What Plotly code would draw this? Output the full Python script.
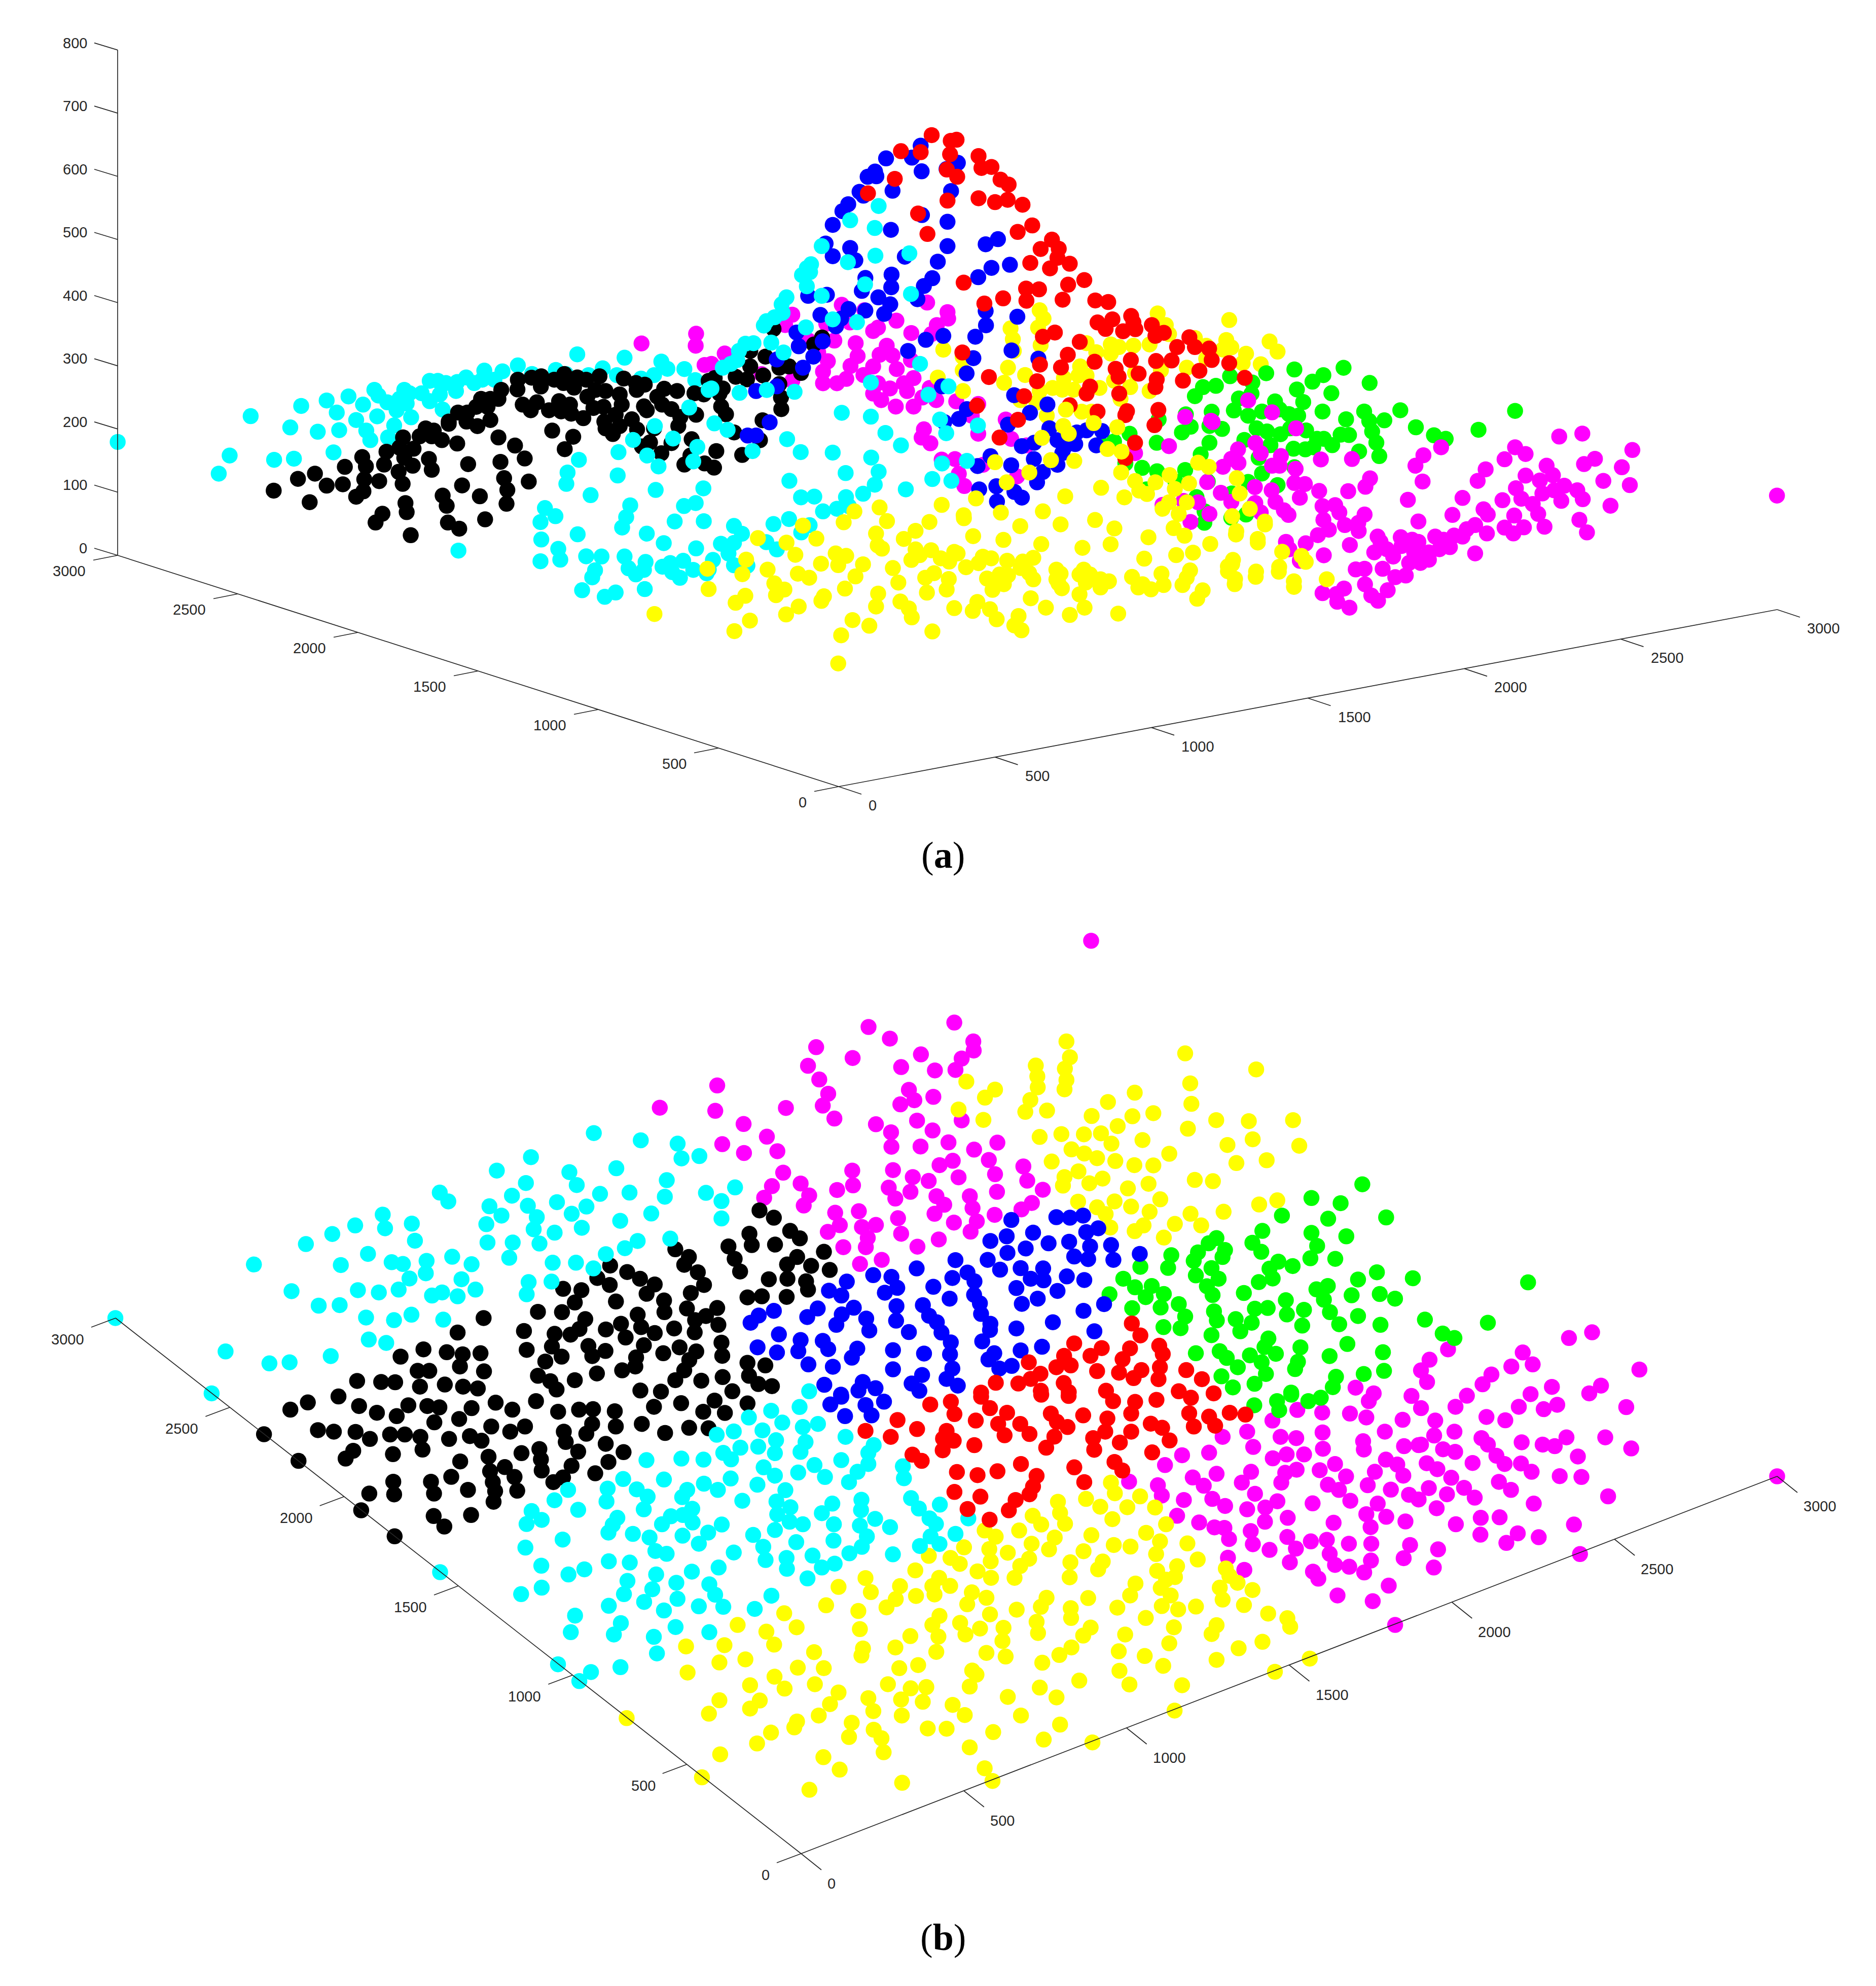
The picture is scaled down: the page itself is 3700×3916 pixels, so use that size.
import plotly.graph_objects as go

# Everything was read off the reference through crops, so each list is in the
# coordinates of the crop it came from: (left, top, width, height, shown_w, shown_h)
CROP_A1 = (150, 550, 1250, 700, 1568, 1568)
CROP_A2 = (1400, 220, 1000, 800, 1568, 1568)
CROP_A3 = (1300, 900, 1300, 500, 1568, 1568)
CROP_A4 = (2300, 600, 1300, 650, 1568, 1568)
CROP_B1 = (200, 2100, 1200, 800, 1568, 1568)
CROP_B2 = (1400, 1950, 1200, 800, 1568, 1568)
CROP_B3 = (2200, 2300, 1100, 800, 1568, 1568)
CROP_B4 = (900, 2800, 1200, 800, 1568, 1568)
CROP_B5 = (1700, 2750, 1100, 800, 1568, 1568)
CROP_B6 = (600, 2850, 350, 300, 1050, 900)
CROP_B7 = (1380, 2720, 340, 100, 1020, 300)
PAGE = (0, 0, 1, 1, 1, 1)

# panel (a), left part
a1_cyan_back = [(103,720),(432,606),(557,561),(620,537),(674,519),(710,555),(738,490),(748,515),(645,590),(693,623),(745,607),(829,611),(812,490),(825,505),(770,545),(800,530),(818,550),(793,580),(855,505),(875,450),(895,450),(915,460),(943,455),(965,435),(985,460),(1010,405),(1005,445),(1055,408),(1035,445),(1093,382),(1128,420),(1187,402),(1212,420),(1240,333),(1268,425),(1303,395),(1338,425),(1357,348),(1398,440),(1430,425),(1448,365),(1463,397),(1505,398),(1532,447),(875,540),(900,510),(940,495),(907,577),(530,656),(598,675),(651,668),(718,670),(787,647),(728,712),(772,700),(637,766),(380,780),(353,860),(490,799),(539,794)]
a1_cyan_front = [(1517,568),(1565,490),(1432,650),(1378,711),(1477,705),(1537,742),(1413,780),(1527,806),(1441,828),(1342,765),(1244,799),(1216,855),(1213,905),(1340,868),(1273,955),(1434,932),(1552,925),(1371,1000),(1504,1003),(1533,990),(1361,1052),(1351,1098),(1481,1071),(1553,1070),(1160,1012),(1186,1048),(1149,1074),(1241,1128),(1412,1125),(1454,1167),(1151,1151),(1193,1192),(1534,1190),(946,1200),(1149,1247),(1198,1240),(1262,1225),(1300,1226),(1357,1226),(1409,1250),(1284,1287),(1277,1318),(1367,1278),(1385,1305),(1405,1285),(1451,1271),(1470,1255),(1502,1245),(1475,1295),(1494,1320),(1527,1285),(1560,1300),(1252,1375),(1335,1385),(1308,1404),(1407,1370)]
a1_magenta = [(1399,285),(1534,242),(1533,295),(1555,380)]
a1_yellow = [(1431,1480),(1562,1280),(1565,1370)]
a1_black = [(1093,445),(1092,488),(1127,436),(1151,430),(1052,490),(1150,475),(1183,445),(1208,420),(1206,460),(1240,435),(1262,445),(1295,430),(1232,480),(1355,440),(1387,490),(1385,460),(1407,467),(1455,485),(1438,520),(1487,495),(1530,505),(1553,510),(1565,450),(1345,510),(1310,495),(1285,490),(1265,520),(1105,555),(1140,545),(1125,580),(1170,580),(1200,585),(1195,540),(1222,555),(1225,595),(1255,615),(1280,570),(1305,565),(1350,555),(1307,630),(1335,600),(1310,660),(1345,650),(1328,685),(1375,620),(1388,665),(1405,563),(1412,580),(1450,555),(1473,575),(1495,610),(1534,600),(1490,650),(1430,660),(1178,670),(1230,697),(1209,752),(1420,722),(1400,740),(1473,725),(1523,708),(1448,770),(1505,820),(1520,780),(1555,815),(1045,700),(1002,530),(1025,530),(1045,530),(1018,565),(990,565),(945,590),(968,590),(922,630),(966,630),(993,650),(1025,623),(865,660),(885,670),(850,695),(880,695),(905,712),(922,640),(943,727),(809,700),(800,745),(835,750),(768,763),(708,787),(762,820),(717,828),(665,830),(812,790),(833,825),(873,795),(880,843),(970,818),(1050,808),(1086,736),(1110,793),(798,852),(591,860),(549,883),(620,913),(660,907),(713,885),(750,893),(808,905),(1059,880),(1120,895),(955,912),(711,938),(693,962),(489,935),(578,986),(1067,932),(907,957),(999,960),(917,1002),(1065,993),(815,990),(818,1030),(758,1037),(741,1076),(1012,1062),(920,1076),(948,1103),(828,1132)]

# panel (a), the peak
a2_red = [(686,91),(745,113),(763,109),(591,153),(652,157),(743,165),(831,172),(733,224),(840,218),(871,214),(765,252),(899,263),(924,282),(572,260),(489,316),(735,344),(831,335),(882,350),(921,341),(967,360),(644,394),(997,440),(952,465),(673,473),(1058,495),(1023,531),(1079,530),(1075,565),(991,585),(1052,606),(1113,588),(785,661),(978,684),(1018,687),(1108,669),(1158,651),(907,722),(979,731),(1091,727),(1192,730),(1232,736),(849,742),(1199,815),(1245,803),(1224,840),(1303,790),(1310,815),(1278,849),(1316,841),(1367,825),(1378,867),(1404,855),(1483,872),(1445,910),(1500,910),(1544,916),(1030,870),(1067,854),(1144,890),(781,931),(1107,940),(1190,967),(1021,978),(1086,989),(1302,960),(1380,964),(1428,962),(1255,994),(1264,1025),(1326,1013),(1514,1002),(1552,960),(863,1026),(1012,1042),(1382,1035),(1463,1040),(1378,1065),(1176,1063),(1165,1090),(1266,1090),(972,1100),(1113,1135),(826,1137),(1199,1160),(1290,1158),(1285,1173),(1387,1153),(1375,1212),(953,1191),(896,1260),(1315,1280),(1285,1340)]
a2_blue = [(652,132),(545,181),(625,178),(767,198),(732,222),(655,231),(511,232),(488,252),(515,250),(746,307),(565,306),(463,310),(475,325),(428,358),(410,385),(656,400),(735,426),(380,438),(560,457),(358,510),(891,493),(853,513),(735,520),(434,527),(380,559),(450,575),(603,561),(705,580),(871,604),(928,592),(830,640),(481,643),(562,630),(688,644),(561,679),(662,674),(470,693),(362,708),(304,712),(521,718),(642,725),(558,745),(429,763),(481,769),(853,771),(951,793),(539,782),(342,786),(406,800),(390,830),(854,826),(821,870),(268,854),(722,867),(668,882),(349,888),(275,907),(933,923),(613,925),(320,947),(815,953),(207,958),(1016,955),(794,1012),(288,990),(143,1080),(207,1062),(718,1062),(941,1096),(1044,1132),(990,1164),(795,1150),(185,1201),(770,1188),(725,1200),(922,1210),(117,1252),(143,1252),(1213,1235),(1050,1224),(1135,1240),(1165,1232),(1195,1290),(1075,1270),(1095,1300),(1130,1285),(965,1293),(1003,1280),(1090,1320),(868,1332),(828,1370),(1002,1343),(932,1367),(1030,1393),(1075,1365),(1012,1433),(833,1460),(886,1448),(942,1470),(965,1492),(888,1507)]
a2_cyan = [(522,365),(434,420),(510,450),(346,520),(512,557),(617,548),(427,582),(313,590),(300,605),(310,620),(285,632),(480,668),(300,675),(346,712),(622,705),(237,718),(222,745),(225,778),(200,795),(175,810),(167,827),(380,803),(455,814),(297,834),(190,893),(135,895),(110,897),(90,925),(228,931),(85,960),(65,975),(40,990),(650,975),(498,1047),(738,1062),(676,1094),(92,1087),(176,1076),(262,1083),(5,1070),(408,1164),(498,1179),(712,1190),(829,1213),(14,1205),(55,1230),(731,1243),(543,1242),(239,1266),(591,1290),(281,1316),(380,1318),(132,1312),(499,1337),(718,1360),(795,1350),(420,1397),(522,1392),(688,1420),(747,1427),(246,1427),(510,1442),(606,1460),(282,1491),(323,1488),(474,1477),(421,1490),(350,1545),(393,1535),(430,1525)]
a2_black = [(197,840),(347,873),(322,900),(172,947),(125,925),(125,985),(215,990),(245,985),(282,1010),(165,1020),(15,1030),(80,1025),(115,1035),(40,1070),(215,1053),(220,1105),(30,1090),(35,1140),(50,1170),(221,1150),(163,1193),(75,1240),(155,1270),(20,1312),(100,1327),(13,1376)]
a2_magenta = [(255,785),(233,825),(46,935),(5,975),(305,885),(385,885),(408,747),(478,768),(360,820),(433,815),(335,930),(365,965),(451,895),(457,945),(435,983),(350,1005),(350,1050),(393,1050),(422,1033),(505,985),(475,1018),(547,905),(525,940),(565,943),(578,995),(630,1030),(600,1050),(520,1050),(505,1090),(557,1070),(530,1115),(575,1140),(610,1080),(630,1140),(657,1105),(680,1068),(700,1115),(735,775),(737,800),(702,825),(685,860),(672,738),(577,808),(505,848),(520,835),(623,856),(622,960),(762,1120),(915,1190),(830,1130),(810,1175),(662,1228),(655,1260),(682,1282),(830,1245),(932,1265),(980,1290),(717,1345),(758,1343),(845,1365),(770,1400),(950,1410),(787,1447),(160,1015),(255,1040)]
a2_magenta_front = [(1470,1180),(1550,1195),(1420,1293),(1315,1320),(1538,1432),(1400,1520),(1465,1505),(1510,1510),(1545,1555),(1555,1200)]
a2_yellow_back = [(1020,768),(1032,800),(1015,835),(930,838),(937,880),(1023,903),(940,925),(922,990),(975,1018),(910,1048),(1385,780),(1410,825),(1420,860),(1165,895),(1240,900),(1240,935),(1265,910),(1310,905),(1360,900),(1195,930),(1500,875),(1535,905),(1535,955),(1145,985),(1140,1020),(1165,1020),(1095,1030),(1315,1010),(1395,1000),(1475,990),(1300,1065),(1205,1068),(1360,1080),(1250,1040),(1060,1068),(1020,1080),(1090,1075),(1125,1075),(1270,1110),(722,920),(782,948),(782,1000),(705,1028),(783,1080),(960,1115),(1010,1125),(1150,1160),(1180,1160),(1042,1175)]
a2_yellow_front = [(1101,1152),(1187,1204),(1260,1220),(1093,1215),(1027,1261),(1110,1245),(1230,1304),(1273,1314),(882,1355),(1055,1347),(1127,1350),(988,1395),(1272,1395),(1510,1357),(1543,1373),(918,1433),(1315,1428),(1422,1405),(1378,1433),(1438,1458),(1482,1437),(1328,1465),(1352,1478),(1210,1454),(1099,1487),(1282,1491),(823,1495),(717,1520),(525,1530),(447,1545),(1030,1545),(1475,1510),(1420,1510),(1400,1535),(1450,1555),(900,1550),(785,1560)]
a2_green = [(1525,1065),(1500,1100),(1565,1060),(1472,1170),(1460,1240),(1487,1218),(1552,1160),(1545,1215),(1298,1245),(1382,1280),(1250,1275),(1388,1190),(1518,1325),(1337,1377),(1285,1360),(1383,1390),(1470,1385),(1540,1430),(1350,1460),(1505,1490),(1530,1545),(1545,1280),(1210,1285),(1440,1430)]

# panel (a), bottom middle
a3_cyan = [(178,430),(197,478),(272,418),(309,387),(358,425),(338,470),(255,530),(280,575),(178,535),(147,540),(165,600),(128,640),(178,673),(210,675),(118,700)]
a3_yellow = [(342,428),(235,505),(303,533),(374,508),(439,407),(542,400),(516,477),(610,460),(582,510),(643,405),(725,382),(747,493),(859,431),(819,516),(955,420),(909,542),(1037,393),(1083,445),(1074,543),(1007,565),(1164,500),(1224,443),(1250,490),(1373,462),(1424,510),(1441,403),(1311,541),(1270,595),(1230,610),(1154,632),(1365,640),(1353,680),(1263,705),(1195,725),(1255,750),(1245,795),(1420,712),(1475,683),(1510,772),(1370,757),(1293,828),(1280,880),(1125,745),(1150,790),(1200,795),(1170,822),(1140,810),(1070,772),(1050,760),(1050,810),(1025,730),(1010,700),(1000,730),(1015,780),(1000,853),(1012,935),(977,980),(1092,972),(945,700),(955,725),(945,760),(950,785),(958,815),(920,935),(884,877),(890,760),(880,720),(860,690),(865,650),(890,627),(828,645),(790,630),(770,620),(760,660),(730,685),(690,650),(670,630),(702,590),(710,600),(647,580),(610,575),(600,640),(620,610),(530,570),(520,550),(420,600),(445,615),(385,663),(426,672),(485,667),(556,690),(467,742),(330,725),(357,750),(258,700),(207,638),(198,728),(324,608),(274,785),(298,823),(278,858),(205,862),(182,905),(392,865),(386,893),(442,817),(569,780),(633,750),(654,722),(689,758),(684,823),(637,842),(521,848),(574,897),(594,940),(601,995),(516,928),(332,928),(302,977),(216,1015),(179,1080),(460,1012),(500,1047),(433,1106),(650,1082),(426,1280),(702,938),(757,900),(746,955),(787,945),(803,1007),(855,987),(845,1045),(862,1075),(793,825),(810,730),(820,790),(780,755),(800,780),(830,735)]
a3_magenta = [(1264,405)]
a3_green = [(1297,410)]

# panel (a), right part
a4_yellow_back = [(150,75),(143,170),(155,205),(246,177),(265,225),(190,235),(182,280),(225,285),(135,215)]
a4_red = [(150,280),(187,350)]
a4_green = [(305,310),(422,302),(374,337),(348,368),(484,374),(311,405),(393,423),(238,328),(205,372),(152,342),(203,425),(173,448),(259,462),(326,465),(372,510),(161,505),(228,510),(195,530),(270,500),(292,522),(314,530),(215,590),(240,605),(428,547),(471,510),(483,555),(519,552),(557,504),(594,585),(490,605),(500,658),(637,623),(665,640),(743,597),(830,507),(507,722),(459,700),(133,593),(186,645),(248,670),(272,618),(295,590),(333,600),(359,640),(375,640),(395,670),(415,620),(435,622),(303,687),(331,690),(350,680),(220,730),(228,805),(305,775),(265,860),(195,845),(156,900),(210,950),(190,1000),(155,1015)]
a4_magenta = [(195,457),(252,514),(309,590),(212,660),(225,708),(171,690),(155,735),(172,755),(135,773),(273,722),(252,768),(270,768),(308,783),(368,738),(442,736),(654,680),(612,718),(593,768),(610,843),(485,828),(474,868),(433,889),(305,850),(330,855),(364,888),(211,869),(251,885),(130,897),(260,940),(318,920),(155,940),(280,980),(291,1002),(212,945),(225,990),(372,960),(402,955),(412,990),(472,1000),(374,1025),(425,1050),(387,1072),(457,1040),(458,1078),(361,1098),(437,1145),(332,1137),(285,1130),(293,1165),(318,1220),(375,1194),(575,930),(600,1033),(705,921),(681,1002),(741,840),(760,785),(805,737),(830,680),(855,712),(905,768),(920,813),(855,815),(889,838),(935,629),(990,615),(1109,693),(1020,735),(994,760),(1084,775),(1040,840),(1103,860),(947,863),(978,885),(991,927),(1057,958),(983,1025),(1001,1085),(940,935),(923,885),(895,900),(832,875),(845,925),(800,932),(872,950),(885,997),(755,975),(900,1058),(851,1061),(805,1062),(826,1090),(828,1005),(765,1000),(735,1050),(715,1070),(763,1090),(685,1100),(705,1105),(640,1105),(660,1120),(558,1108),(585,1120),(600,1130),(503,1105),(510,1130),(495,1180),(525,1165),(560,1150),(590,1180),(625,1180),(650,1165),(675,1155),(540,1200),(578,1230),(625,1215),(605,1230),(735,1185),(515,1258),(451,1261),(472,1258),(570,1290),(545,1298),(473,1332),(527,1360),(488,1385),(504,1410),(423,1352),(372,1374),(405,1378),(407,1415),(436,1443),(1453,910)]
a4_yellow_front = [(175,900),(168,827),(199,973),(157,1008),(235,1047),(166,1095),(218,1133),(276,1177),(322,1197),(332,1225),(268,1272),(213,1296),(304,1344),(382,1308),(157,1236),(147,1270),(163,1331)]

# panel (b), upper left
b1_cyan = [(36,978),(284,1269),(320,1107),(433,1153),(485,1149),(591,1125),(393,771),(490,874),(560,930),(614,928),(527,692),(595,653),(654,620),(725,578),(731,631),(800,613),(808,679),(687,730),(617,773),(748,762),(777,769),(838,757),(836,805),(794,825),(766,868),(661,870),(715,879),(682,976),(754,986),(799,965),(689,1061),(734,1074),(881,984),(852,891),(878,879),(918,894),(964,868),(928,828),(954,770),(904,741),(872,493),(894,527),(1019,408),(1107,356),(1094,456),(1058,505),(1000,546),(1031,582),(992,615),(995,686),(1060,686),(1051,745),(1099,544),(1122,588),(1114,635),(1129,690),(1174,530),(1206,414),(1225,464),(1250,547),(1212,575),(1168,648),(1238,629),(1285,498),(1327,399),(1269,263),(1390,291),(1485,304),(1495,361),(1541,352),(1457,445),(1361,493),(1452,509),(1558,494),(1417,574),(1337,602),(1382,680),(1349,708),(1466,671),(1300,731),(1223,764),(1163,764),(1268,786),(1101,839),(1160,837),(1096,886)]
b1_black = [(985,978),(918,1034),(771,1127),(830,1099),(890,1110),(931,1118),(977,1114),(924,1165),(815,1182),(845,1182),(986,1184),(659,1221),(721,1225),(757,1226),(821,1243),(885,1235),(932,1243),(970,1250),(611,1281),(532,1304),(487,1332),(664,1318),(710,1344),(791,1315),(840,1318),(871,1323),(761,1357),(954,1326),(1016,1305),(1059,1332),(922,1368),(1120,1299),(1177,1340),(1231,1332),(1267,1330),(1323,1338),(1389,1258),(1442,1262),(1424,1321),(1494,1307),(1551,1340),(1479,712),(1514,742),(1502,772),(1537,801),(1553,850),(1311,775),(1355,800),(1388,826),(1278,823),(1310,850),(1426,848),(1405,884),(1519,881),(1190,865),(1237,870),(1220,918),(1326,914),(1450,910),(1509,941),(1451,955),(1125,954),(1187,955),(1382,965),(1558,970),(1247,982),(1530,986),(1232,1020),(1209,1042),(1339,1000),(1300,1022),(1391,1013),(1476,1018),(1426,1036),(1168,1039),(1089,1028),(1529,1033),(1351,1053),(1255,1086),(1398,1083),(1161,1088),(1490,1091),(1096,1101),(1448,1114),(1299,1105),(1533,1107),(1265,1125),(1186,1127),(1378,1130),(1515,1140),(1144,1146),(1376,1165),(1502,1180),(1342,1180),(1277,1192),(1125,1201),(1157,1222),(1220,1218),(1479,1218),(1546,1220),(1173,1254),(858,1381),(558,1411),(599,1417),(655,1418),(692,1445),(744,1428),(782,1428),(822,1437),(896,1445),(419,1427),(508,1530)]
b1_magenta = [(1439,165)]

# panel (b), upper middle
b2_magenta = [(630,130),(409,147),(464,192),(679,203),(680,238),(274,225),(544,253),(368,267),(649,269),(253,297),(493,302),(580,315),(633,313),(282,350),(19,373),(513,390),(305,405),(576,417),(527,430),(491,446),(291,451),(196,460),(14,471),(321,501),(649,508),(534,509),(87,522),(428,523),(467,554),(574,547),(147,571),(32,600),(468,610),(543,609),(615,593),(741,594),(88,634),(174,627),(681,621),(719,661),(626,664),(592,681),(808,686),(189,710),(367,702),(472,700),(735,716),(641,728),(523,727),(564,742),(234,752),(160,762),(369,759),(818,741),(461,768),(858,776),(740,784),(328,777),(517,784),(256,798),(584,801),(670,801),(140,807),(478,810),(830,827),(604,834),(242,837),(803,852),(677,847),(384,859),(579,869),(323,865),(734,873),(485,886),(688,898),(335,913),(629,903),(428,912),(392,920),(304,939),(672,938),(493,946),(407,962),(590,968),(402,998),(344,998),(535,996),(443,1047),(387,1063)]
b2_yellow = [(919,203),(928,264),(915,308),(919,352),(914,388),(840,296),(844,338),(845,380),(661,358),(735,389),(709,420),(826,429),(813,475),(869,470),(641,466),(705,506),(1026,437),(1095,401),(984,491),(1089,492),(1143,480),(1051,530),(850,572),(906,561),(964,562),(1008,558),(1035,598),(1115,584),(932,620),(965,636),(998,654),(1184,637),(881,667),(1045,665),(1094,681),(1143,682),(950,705),(914,727),(910,760),(1012,733),(978,751),(949,822),(1043,821),(998,844),(1020,870),(1032,922),(1225,249),(1408,311),(1238,365),(1241,444),(1232,540),(1305,507),(1389,511),(1503,507),(1334,603),(1399,581),(1519,606),(1357,673),(1435,662)]
b2_black = [(128,856),(165,884),(102,946),(207,935),(232,964),(48,995),(108,990),(168,988),(294,1016),(64,1043),(225,1036),(199,1065),(261,1070),(78,1092),(309,1086),(152,1122),(200,1120),(248,1130),(253,1162),(97,1192),(134,1188),(198,1190),(19,1233),(22,1298),(30,1367),(32,1418),(97,1445),(143,1455),(33,1500),(101,1495),(125,1527),(160,1535),(58,1555)]
b2_cyan = [(65,767),(30,820),(30,887),(256,1555)]
b2_blue = [(893,882),(928,884),(962,876),(777,893),(1001,925),(970,940),(833,942),(765,956),(723,974),(873,983),(926,977),(980,995),(1034,990),(814,1003),(767,1020),(939,1034),(975,1044),(1040,1047),(1108,1024),(716,1047),(633,1048),(533,1080),(748,1085),(801,1079),(859,1080),(664,1096),(421,1106),(468,1113),(625,1117),(827,1120),(920,1111),(965,1125),(353,1131),(682,1130),(860,1126),(483,1155),(576,1151),(307,1166),(451,1174),(790,1156),(896,1167),(681,1182),(339,1185),(618,1197),(845,1197),(696,1215),(804,1217),(481,1226),(549,1222),(371,1232),(165,1244),(278,1235),(963,1244),(1016,1218),(126,1262),(251,1268),(340,1258),(565,1263),(699,1256),(884,1288),(105,1290),(403,1274),(326,1298),(480,1282),(585,1288),(723,1294),(722,1318),(790,1312),(411,1320),(513,1326),(597,1328),(178,1335),(991,1323),(234,1357),(291,1360),(621,1366),(702,1362),(123,1385),(305,1392),(380,1390),(228,1400),(472,1396),(552,1409),(619,1412),(733,1408),(801,1397),(856,1383),(173,1405),(366,1425),(718,1432),(254,1451),(317,1460),(778,1457),(746,1467),(625,1467),(472,1470),(610,1507),(547,1492),(295,1530),(394,1519),(427,1543),(520,1525),(639,1533),(383,1552),(338,1568),(540,1553)]
b2_green = [(1030,1180)]
b2_red = [(939,1370),(822,1443),(913,1418),(893,1462),(930,1455),(981,1418),(1010,1388),(998,1477),(852,1487),(827,1507),(737,1522),(795,1525),(912,1523),(853,1553),(699,1560),(925,1558),(1021,1553)]

# panel (b), right
b3_yellow = [(223,52),(274,57),(93,67),(35,85),(126,127),(455,131),(404,147),(44,155),(96,175),(211,183),(304,175),(167,222),(241,228),(79,228),(54,250),(136,275)]
b3_green = [(694,69),(551,122),(633,142),(468,190),(761,197),(598,202),(413,249),(551,257),(649,270),(284,277),(262,297),(385,295),(567,307),(232,332),(308,323),(410,330),(301,350),(157,343),(220,365),(548,355),(618,357),(70,388),(148,392),(270,393),(458,368),(433,395),(498,385),(226,421),(22,434),(290,434),(442,433),(403,447),(257,463),(836,432),(735,409),(682,437),(1160,448),(102,462),(55,467),(136,493),(273,497),(85,505),(597,462),(565,475),(586,515),(361,489),(664,498),(743,493),(786,511),(178,532),(127,545),(47,548),(479,517),(277,560),(392,550),(428,547),(530,554),(482,572),(603,563),(196,580),(338,590),(285,595),(383,604),(682,578),(525,615),(629,610),(745,612),(870,592),(1047,604),(135,621),(183,625),(351,637),(270,652),(920,646),(953,663),(430,665),(652,686),(419,698),(520,699),(293,714),(226,722),(451,724),(378,730),(752,718),(602,733),(313,740),(411,757),(513,755),(344,776),(505,783),(755,790),(698,802),(423,802),(620,813),(298,811),(391,840),(330,854),(611,853),(494,874)]
b3_red = [(46,607),(70,653),(41,703),(123,693),(133,725),(20,745),(125,776),(199,787),(73,787),(10,797),(243,822),(51,818),(121,822),(178,869),(276,877)]
b3_magenta = [(935,707),(883,747),(859,788),(876,833),(675,855),(726,877),(1145,719),(1113,773),(1173,765),(1057,804),(1032,842),(1275,663),(1340,641),(1473,785),(1227,852),(1167,880),(1365,847),(1332,877),(988,886),(956,929),(859,934),(899,982),(953,1025),(896,1040),(1043,968),(1096,981),(1134,929),(1204,938),(1242,921),(1436,930),(1029,1050),(1047,1075),(1071,1118),(1094,1150),(1004,1146),(1142,1066),(1140,1148),(1170,1180),(1201,1075),(1235,1081),(1268,1047),(1377,1047),(1450,1090),(1300,1121),(1249,1197),(1310,1200),(1385,1275),(1176,1303),(1078,1219),(1112,1250),(921,1093),(955,1103),(875,1147),(905,1170),(944,1203),(980,1242),(932,1267),(881,1243),(1010,1280),(1027,1358),(1080,1356),(957,1383),(903,1321),(1026,1423),(1131,1418),(1099,1455),(1190,1433),(1289,1384),(1306,1498),(907,1480),(895,1550),(859,1075)]

# panel (b), bottom left
b4_black = [(35,62),(65,80),(90,25),(139,45),(177,25),(277,45),(282,85),(335,53),(350,15),(411,25),(478,15),(538,50),(600,30),(650,32),(10,160),(83,142),(168,128),(214,112),(218,152),(314,122),(385,92),(431,124),(392,162),(125,182),(87,198),(150,220),(220,195),(297,177),(358,206),(275,222),(250,240),(30,270),(94,240),(100,275),(157,273),(96,316),(38,367)]
b4_cyan = [(671,57),(715,44),(789,40),(840,10),(893,27),(932,15),(1003,65),(732,107),(778,103),(824,78),(821,128),(900,85),(887,123),(688,127),(708,152),(490,155),(580,149),(637,153),(992,155),(923,174),(792,183),(821,215),(881,203),(950,220),(1034,200),(1012,240),(430,228),(535,230),(707,226),(776,250),(638,246),(674,270),(848,271),(595,270),(582,298),(465,268),(493,296),(390,265),(288,270),(253,310),(737,312),(387,315),(314,347),(825,315),(483,345),(194,352),(220,386),(181,402),(861,337),(827,365),(942,360),(969,323),(859,393),(893,403),(608,343),(584,367),(553,372),(530,403),(609,396),(415,378),(403,405),(392,435),(973,403),(1044,308),(1043,348),(1040,408),(1058,450),(1045,490),(1013,515),(821,425),(765,444),(876,472),(791,490),(797,541),(851,533),(852,575),(918,524),(942,570),(975,555),(905,612),(972,466),(684,404),(649,435),(583,447),(625,478),(455,440),(498,454),(513,506),(542,517),(274,462),(178,493),(219,563),(393,546),(447,551),(330,577),(289,597),(220,648),(167,673),(715,512),(676,570),(607,586),(515,597),(441,622),(567,629),(652,635),(505,654),(432,673),(667,675),(570,691),(484,703),(625,720),(688,722),(393,718),(535,736),(306,756),(424,785),(565,800),(295,820),(406,829),(652,820),(509,838),(517,902),(769,730),(812,679),(262,944),(317,1009),(347,974),(423,955)]
b4_yellow = [(985,645),(953,716),(1036,738),(1040,808),(845,747),(877,801),(725,792),(799,818),(819,868),(691,870),(592,875),(922,897),(1048,883),(1044,910),(678,937),(745,925),(596,976),(880,957),(947,959),(820,992),(924,1021),(757,1025),(846,1038),(985,1053),(678,1083),(782,1084),(757,1115),(963,1098),(651,1135),(934,1142),(439,1152),(878,1165),(871,1188),(1019,1170),(811,1208),(1012,1225),(775,1250),(680,1292),(946,1303),(988,1351),(910,1429),(633,1381)]

# panel (b), bottom right
b5_red = [(192,38),(250,27),(335,8),(260,75),(100,98),(155,133),(81,163),(10,140),(320,100),(360,52),(408,70),(383,113),(401,157),(445,113),(471,152),(238,140),(228,170),(258,178),(227,215),(316,195),(142,232),(168,256),(504,0),(581,5),(531,73),(548,105),(578,125),(622,80),(541,162),(518,205),(690,92),(684,143),(650,168),(653,213),(757,73),(757,143),(725,185),(706,25),(768,28),(828,20),(812,112),(844,128),(865,177),(816,223),(925,12),(920,72),(933,123),(976,85),(993,120),(1034,70),(1078,77),(267,299),(325,311),(381,296),(447,268),(491,314),(481,355),(597,281),(710,260),(732,293),(471,385),(625,338),(260,376),(333,394),(432,407),(413,447),(297,442),(359,483)]
b5_blue = [(10,40),(62,27),(27,80)]
b5_cyan = [(33,195),(18,225),(18,268),(115,277),(118,323),(138,400),(160,440),(219,425),(190,478),(208,500),(37,480),(79,512),(193,548),(163,585),(218,577),(263,538),(299,478),(87,617)]
b5_green = [(1103,41),(1167,25),(1173,60),(1207,0),(1255,25),(1290,12)]
b5_magenta = [(1224,59),(1294,69),(1372,73),(1418,88),(1520,97),(1425,25),(1545,5),(1154,100),(1083,143),(1014,163),(1295,146),(1177,163),(1221,168),(1470,143),(1409,180),(1411,212),(1296,209),(1100,202),(1524,199),(1565,195),(900,234),(976,224),(1155,246),(1194,231),(1243,231),(852,272),(1330,268),(1222,290),(1287,292),(1473,251),(1505,270),(1442,298),(1522,313),(1094,298),(997,306),(930,320),(1361,316),(1190,302),(1179,340),(1068,340),(751,336),(832,350),(961,352),(843,390),(1310,348),(1341,368),(1422,350),(1487,367),(1105,383),(1538,387),(1373,410),(1168,412),(985,403),(905,407),(1021,430),(1267,420),(1450,421),(1134,436),(1083,443),(1565,405),(1418,462),(1474,472),(886,468),(1197,476),(948,494),(1326,495),(1133,491),(1528,490),(991,513),(1430,512),(1019,515),(1093,527),(1032,558),(1196,550),(1262,567),(1307,561),(1369,576),(1432,576),(1541,581),(1099,578),(1146,600),(1220,595),(1315,615),(1029,630),(1431,641),(1523,632),(1203,648),(1330,658),(1370,665),(1412,687),(1075,677),(1268,684),(1283,711),(1481,738),(1337,776),(1436,798),(1499,890)]
b5_yellow = [(700,340),(711,381),(782,393),(630,403),(670,433),(746,435),(824,436),(551,414),(557,457),(480,468),(504,502),(571,499),(704,481),(855,501),(442,525),(345,525),(376,549),(799,534),(645,543),(542,552),(477,576),(838,567),(915,575),(708,581),(755,587),(287,590),(358,597),(526,598),(410,611),(623,605),(827,616),(188,623),(249,631),(275,654),(362,644),(470,634),(445,662),(944,637),(586,648),(677,645),(664,675),(886,663),(830,681),(1023,672),(325,683),(150,679),(1033,700),(1056,727),(429,708),(363,708),(584,706),(880,705),(217,708),(855,715),(10,709),(198,740),(248,739),(107,740),(769,730),(840,747),(1006,746),(868,776),(1098,755),(204,772),(309,764),(519,785),(754,776),(636,786),(25,763),(95,790),(152,778),(350,785),(1014,792),(296,810),(503,820),(587,825),(69,822),(718,823),(843,817),(939,819),(889,830),(1074,813),(435,831),(360,849),(218,855),(798,863),(588,863),(1142,846),(1196,864),(997,891),(198,890),(276,882),(491,878),(877,899),(1204,897),(983,925),(332,904),(398,901),(643,900),(215,935),(291,927),(622,931),(495,921),(740,927),(136,933),(395,952),(1126,955),(864,961),(94,977),(1059,980),(589,977),(209,994),(350,998),(722,992),(555,1006),(404,1012),(795,1010),(997,1025),(507,1036),(847,1048),(158,1045),(105,1057),(310,1066),(322,1082),(724,1067),(1161,1071),(1259,1020),(611,1105),(752,1120),(900,1123),(73,1119),(303,1128),(137,1135),(181,1130),(500,1132),(547,1170),(410,1168),(110,1178),(171,1187),(18,1173),(255,1199),(32,1223),(879,1221),(112,1240),(289,1238),(447,1240),(33,1295),(55,1328),(185,1290),(238,1291),(369,1304),(557,1275),(648,1344),(511,1333),(61,1382),(303,1363),(345,1444),(367,1493),(113,1500)]

b6_black = [(245,78),(290,32),(525,52),(700,25),(870,186),(527,215),(532,290),(385,285),(337,384),(535,538),(750,215),(768,285),(766,418),(829,480)]
b6_cyan = [(804,750)]
b7_black = [(88,125),(283,142),(149,198)]
b7_cyan = [(423,185),(591,163),(291,225)]
b7_blue = [(838,102),(773,148),(860,217)]
b_extra_magenta = [(3505,2911),(2152,1855)]

AXIS_TICKS = [0, 500, 1000, 1500, 2000, 2500, 3000]
Z_TICKS = [0, 100, 200, 300, 400, 500, 600, 700, 800]

CYAN = "#00ffff"
MAGENTA = "#ff00ff"
YELLOW = "#ffff00"
GREEN = "#00ff00"
BLUE = "#0000ff"
RED = "#ff0000"
BLACK = "#000000"
AXIS_COLOR = "#262626"


def unpack(crop, points):
    left, top, w, h, shown_w, shown_h = crop
    return [(left + x * w / shown_w, top + y * h / shown_h) for x, y in points]


# back to front, the order decides who hides who
layers = [
    (MAGENTA, unpack(CROP_A1, a1_magenta) + unpack(CROP_A2, a2_magenta)),
    (YELLOW, unpack(CROP_A2, a2_yellow_back) + unpack(CROP_A4, a4_yellow_back)),
    (GREEN, unpack(CROP_A2, a2_green) + unpack(CROP_A3, a3_green) + unpack(CROP_A4, a4_green)),
    (MAGENTA, unpack(CROP_A2, a2_magenta_front) + unpack(CROP_A3, a3_magenta) + unpack(CROP_A4, a4_magenta)),
    (CYAN, unpack(CROP_A1, a1_cyan_back)),
    (BLACK, unpack(CROP_A1, a1_black) + unpack(CROP_A2, a2_black)),
    (BLUE, unpack(CROP_A2, a2_blue)),
    (CYAN, unpack(CROP_A1, a1_cyan_front) + unpack(CROP_A2, a2_cyan) + unpack(CROP_A3, a3_cyan)),
    (RED, unpack(CROP_A2, a2_red) + unpack(CROP_A4, a4_red)),
    (YELLOW, unpack(CROP_A1, a1_yellow) + unpack(CROP_A2, a2_yellow_front) + unpack(CROP_A3, a3_yellow) + unpack(CROP_A4, a4_yellow_front)),
    (MAGENTA, unpack(CROP_B1, b1_magenta) + unpack(CROP_B2, b2_magenta) + unpack(CROP_B3, b3_magenta) + unpack(CROP_B5, b5_magenta) + unpack(PAGE, b_extra_magenta)),
    (GREEN, unpack(CROP_B2, b2_green) + unpack(CROP_B3, b3_green) + unpack(CROP_B5, b5_green)),
    (YELLOW, unpack(CROP_B2, b2_yellow) + unpack(CROP_B3, b3_yellow) + unpack(CROP_B4, b4_yellow) + unpack(CROP_B5, b5_yellow)),
    (BLACK, unpack(CROP_B1, b1_black) + unpack(CROP_B2, b2_black) + unpack(CROP_B4, b4_black) + unpack(CROP_B6, b6_black) + unpack(CROP_B7, b7_black)),
    (CYAN, unpack(CROP_B1, b1_cyan) + unpack(CROP_B2, b2_cyan) + unpack(CROP_B4, b4_cyan) + unpack(CROP_B5, b5_cyan) + unpack(CROP_B6, b6_cyan) + unpack(CROP_B7, b7_cyan)),
    (BLUE, unpack(CROP_B2, b2_blue) + unpack(CROP_B5, b5_blue) + unpack(CROP_B7, b7_blue)),
    (RED, unpack(CROP_B2, b2_red) + unpack(CROP_B3, b3_red) + unpack(CROP_B5, b5_red)),
]

fig = go.Figure()
for color, points in layers:
    fig.add_trace(go.Scatter(
        x=[p[0] for p in points],
        y=[p[1] for p in points],
        mode="markers",
        marker=dict(color=color, size=31.5, line=dict(width=0)),
        hoverinfo="skip",
    ))


def draw_axis(start, end, ticks, top, tick_dir, label_off, anchor):
    fig.add_trace(go.Scatter(
        x=[start[0], end[0]], y=[start[1], end[1]], mode="lines",
        line=dict(color=AXIS_COLOR, width=1.7), hoverinfo="skip",
    ))
    for t in ticks:
        x = start[0] + (end[0] - start[0]) * t / top
        y = start[1] + (end[1] - start[1]) * t / top
        fig.add_trace(go.Scatter(
            x=[x, x + tick_dir[0]], y=[y, y + tick_dir[1]], mode="lines",
            line=dict(color=AXIS_COLOR, width=1.7), hoverinfo="skip",
        ))
        fig.add_annotation(
            x=x + tick_dir[0] + label_off[0], y=y + tick_dir[1] + label_off[1],
            text=str(t), showarrow=False, xanchor=anchor, yanchor="middle",
            font=dict(family="Liberation Sans", size=29, color=AXIS_COLOR),
        )


# panel (a)
draw_axis((1654, 1551), (232, 1095), AXIS_TICKS, 3000, (-48, 9.5), (-13, 21), "right")
draw_axis((1654, 1551), (3505, 1202), AXIS_TICKS, 3000, (45, 15), (12, 22), "left")
draw_axis((232, 1095), (232, 98.6), Z_TICKS, 800, (-46, -14), (-12, 0), "right")
# panel (b)
draw_axis((1580, 3655), (228, 2599), AXIS_TICKS, 3000, (-48, 18), (-12, 24), "right")
draw_axis((1580, 3655), (3505, 2911), AXIS_TICKS, 3000, (40, 32), (10, 27), "left")

for letter, y in [("a", 1686), ("b", 3820)]:
    fig.add_annotation(
        x=1860, y=y, text="(<b>%s</b>)" % letter, showarrow=False,
        font=dict(family="Liberation Serif", size=74, color="#000000"),
    )

fig.update_layout(
    width=3700, height=3916,
    margin=dict(l=0, r=0, t=0, b=0),
    paper_bgcolor="white", plot_bgcolor="white",
    showlegend=False,
    xaxis=dict(range=[0, 3700], visible=False, fixedrange=True),
    yaxis=dict(range=[3916, 0], visible=False, fixedrange=True),
)

# the page's default 8px body margin would push the whole figure off position
fig.write_html(
    "out.html",
    post_script="document.body.style.margin = '0';",
    config={"displayModeBar": False},
)
